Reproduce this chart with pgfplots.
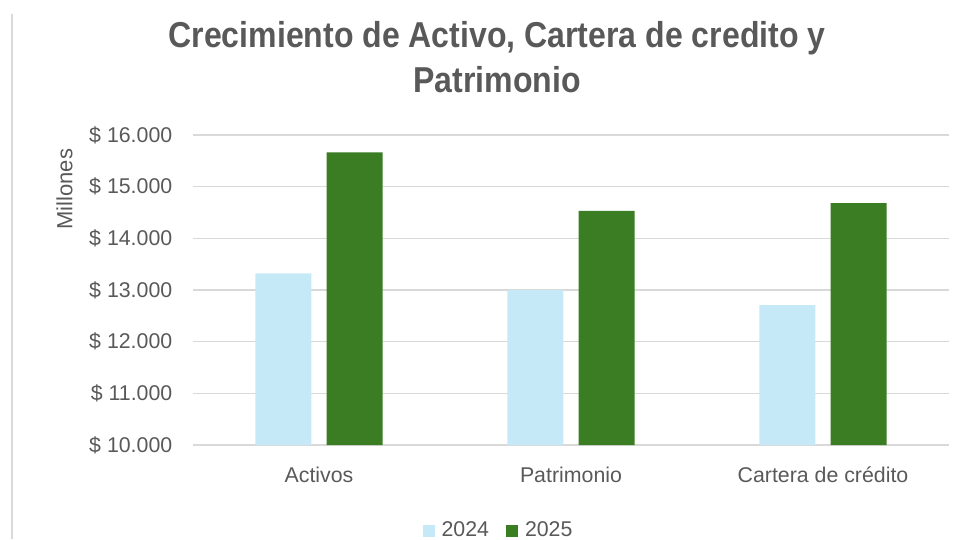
\documentclass[border=0pt]{standalone}
\usepackage{pgfplots}
\pgfplotsset{compat=1.18}
\usepackage{fontspec}
\setmainfont{Liberation Sans}
\newfontfamily\titlefont[FakeStretch=0.89]{Liberation Sans}
\definecolor{txt}{HTML}{595959}
\definecolor{gridc}{HTML}{D9D9D9}
\definecolor{lblue}{HTML}{C6E9F8}
\definecolor{dgreen}{HTML}{3A7D22}
\begin{document}
\begin{tikzpicture}
\useasboundingbox (0,0) rectangle (963*0.75pt,539*0.75pt);
\draw[color=gridc, line width=1.5pt] (12*0.75pt,0) -- (12*0.75pt,525*0.75pt);
\node[text=txt, align=center, font=\titlefont\bfseries\fontsize{27}{34}\selectfont, anchor=center] at (497*0.75pt,482*0.75pt) {Crecimiento de Activo, Cartera de credito y\\Patrimonio};
\begin{axis}[
  at={(193*0.75pt,94*0.75pt)}, anchor=south west,
  scale only axis, width=756*0.75pt, height=310*0.75pt,
  ybar=11.5pt, bar width=42pt,
  xmin=-0.5, xmax=2.5, ymin=10000, ymax=16000,
  scaled y ticks=false,
  xtick={0,1,2}, xticklabels={Activos,Patrimonio,Cartera de crédito},
  ytick={10000,11000,12000,13000,14000,15000,16000},
  yticklabels={\$ 10.000,\$ 11.000,\$ 12.000,\$ 13.000,\$ 14.000,\$ 15.000,\$ 16.000},
  axis line style={draw=none},
  major tick length=0pt,
  ymajorgrids, grid style={color=gridc, line width=1.1pt},
  tick label style={text=txt, font=\fontsize{16}{18}\selectfont},
  xticklabel style={yshift=-13pt},
  yticklabel style={xshift=-12pt},
  ylabel={Millones},
  ylabel style={at={(axis description cs:-0.17,0.825)}, anchor=center, rotate=0, text=txt, font=\fontsize{16.5}{18}\selectfont},
  legend style={at={(306*0.75pt,-85*0.75pt)}, anchor=center, draw=none, legend columns=2, font=\fontsize{16}{18}\selectfont, text=txt, /tikz/every even column/.append style={column sep=11pt}},
  legend image code/.code={\fill[#1] (0pt,-5pt) rectangle (9pt,4pt); \path (12pt,0pt);},
]
\addplot[fill=lblue, draw=none] coordinates {(0,13320) (1,13000) (2,12705)};
\addplot[fill=dgreen, draw=none] coordinates {(0,15665) (1,14530) (2,14680)};
\legend{2024,2025}
\end{axis}
\end{tikzpicture}
\end{document}
